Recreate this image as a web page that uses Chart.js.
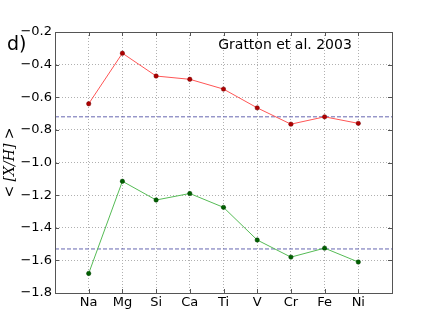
<!DOCTYPE html>
<html>
<head>
<meta charset="utf-8">
<script src="https://cdn.jsdelivr.net/npm/chart.js@4"></script>
<style>
  html, body { margin: 0; padding: 0; background: #fff; }
  #wrap { width: 436px; height: 327px; }
</style>
</head>
<body>
<div id="wrap"><canvas id="myChart" width="436" height="327"></canvas></div>
<script>
const elements = ['Na', 'Mg', 'Si', 'Ca', 'Ti', 'V', 'Cr', 'Fe', 'Ni'];
const redValues = [-0.64, -0.33, -0.47, -0.49, -0.55, -0.665, -0.765, -0.72, -0.76];
const greenValues = [-1.68, -1.115, -1.23, -1.19, -1.275, -1.475, -1.58, -1.525, -1.61];
const redMean = -0.72;
const greenMean = -1.53;
const yTicks = [-1.8, -1.6, -1.4, -1.2, -1.0, -0.8, -0.6, -0.4, -0.2];
const xMin = -1, xMax = elements.length;

const toPoints = vals => vals.map((v, i) => ({ x: i, y: v }));
const flat = v => [{ x: xMin, y: v }, { x: xMax, y: v }];
const fmt = v => (v < 0 ? '\u2212' : '') + Math.abs(v).toFixed(1);

// inward ticks on all four sides, plus the panel texts
const decor = {
  id: 'decor',
  afterDraw(chart) {
    const { ctx, chartArea: a, scales } = chart;
    ctx.save();
    ctx.strokeStyle = '#555';
    ctx.lineWidth = 1;
    ctx.beginPath();
    yTicks.forEach(t => {
      const y = Math.round(scales.y.getPixelForValue(t)) + 0.5;
      ctx.moveTo(a.left, y); ctx.lineTo(a.left + 4, y);
      ctx.moveTo(a.right, y); ctx.lineTo(a.right - 4, y);
    });
    elements.forEach((e, i) => {
      const x = Math.round(scales.x.getPixelForValue(i)) + 0.5;
      ctx.moveTo(x, a.bottom); ctx.lineTo(x, a.bottom - 4);
      ctx.moveTo(x, a.top); ctx.lineTo(x, a.top + 4);
    });
    ctx.stroke();

    ctx.fillStyle = '#000';
    ctx.textBaseline = 'alphabetic';
    ctx.textAlign = 'center';
    ctx.font = '14px "DejaVu Sans"';
    ctx.fillText('Gratton et al. 2003', 285, 49);
    ctx.textAlign = 'left';
    ctx.font = '19px "DejaVu Sans"';
    ctx.fillText('d)', 7, 50);

    ctx.translate(14, (a.top + a.bottom) / 2);
    ctx.rotate(-Math.PI / 2);
    ctx.textAlign = 'center';
    ctx.font = 'italic 14px "DejaVu Serif"';
    ctx.fillText('< [X/H] >', 0, 0);
    ctx.restore();
  }
};

new Chart(document.getElementById('myChart').getContext('2d'), {
  type: 'line',
  data: {
    datasets: [
      { data: toPoints(redValues), borderColor: '#ff5555', borderWidth: 1,
        pointRadius: 2.2, pointBackgroundColor: '#b00000', pointBorderColor: '#700000', pointBorderWidth: 0.5 },
      { data: toPoints(greenValues), borderColor: '#55bb55', borderWidth: 1,
        pointRadius: 2.2, pointBackgroundColor: '#006000', pointBorderColor: '#004000', pointBorderWidth: 0.5 },
      { data: flat(redMean), borderColor: '#6666b0', borderWidth: 1, borderDash: [4, 2], pointRadius: 0 },
      { data: flat(greenMean), borderColor: '#6666b0', borderWidth: 1, borderDash: [4, 2], pointRadius: 0 }
    ]
  },
  options: {
    responsive: false,
    animation: false,
    layout: { padding: { top: 32, right: 44, left: 0, bottom: 0 } },
    plugins: { legend: { display: false }, tooltip: { enabled: false } },
    scales: {
      x: {
        type: 'linear', min: xMin, max: xMax,
        afterBuildTicks: s => { s.ticks = elements.map((e, i) => ({ value: i })); },
        afterFit: s => { s.height = 34; },
        ticks: { callback: v => elements[v], color: '#000', font: { family: 'DejaVu Sans', size: 13 }, padding: 2, maxRotation: 0, autoSkip: false },
        grid: { color: '#b0b0b0', drawTicks: false, lineWidth: 1 },
        border: { color: '#555', dash: [1, 2] }
      },
      y: {
        min: -1.8, max: -0.2,
        afterBuildTicks: s => { s.ticks = yTicks.map(v => ({ value: v })); },
        afterFit: s => { s.width = 55; },
        ticks: { callback: v => fmt(v), color: '#000', font: { family: 'DejaVu Sans', size: 13 }, padding: 3 },
        grid: { color: '#b0b0b0', drawTicks: false, lineWidth: 1 },
        border: { color: '#555', dash: [1, 2] }
      }
    }
  },
  plugins: [decor, {
    id: 'frame',
    afterDatasetsDraw(chart) {
      const { ctx, chartArea: a } = chart;
      ctx.save();
      ctx.strokeStyle = '#555';
      ctx.lineWidth = 1;
      ctx.strokeRect(Math.round(a.left) + 0.5, Math.round(a.top) + 0.5,
        Math.round(a.right - a.left), Math.round(a.bottom - a.top));
      ctx.restore();
    }
  }]
});
</script>
</body>
</html>
